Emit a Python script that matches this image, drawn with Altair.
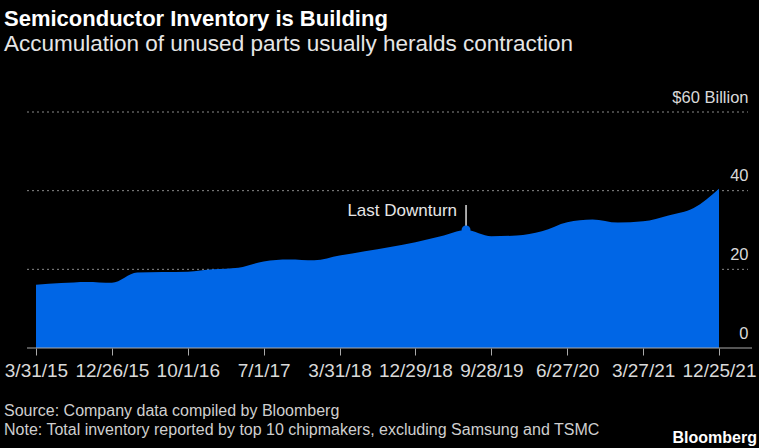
import altair as alt
import pandas as pd

# ---- data ----
quarter_index = list(range(28))  # 2015Q1 .. 2021Q4
inventory = [16.1, 16.5, 16.8, 16.6, 19.2, 19.3, 19.4, 20.0, 20.4, 22.0,
             22.5, 22.3, 23.5, 24.6, 25.7, 26.9, 28.4, 30.0, 28.4, 28.6,
             29.7, 32.0, 32.7, 31.9, 32.2, 33.7, 35.6, 40.5]
tick_positions = [0, 3, 6, 9, 12, 15, 18, 21, 24, 27]
tick_labels = ["3/31/15", "12/26/15", "10/1/16", "7/1/17", "3/31/18",
               "12/29/18", "9/28/19", "6/27/20", "3/27/21", "12/25/21"]
grid_values = [20, 40, 60]
y_ticks = [0, 20, 40, 60]
ann_index = [17]
ann_value = [30.0]
ann_label = ["Last Downturn"]

title = "Semiconductor Inventory is Building"
subtitle = "Accumulation of unused parts usually heralds contraction"
source = "Source: Company data compiled by Bloomberg"
note = "Note: Total inventory reported by top 10 chipmakers, excluding Samsung and TSMC"
brand = "Bloomberg"

W, H = 683, 236
FONT = "Liberation Sans"
BLUE = "#0066E6"

df = pd.DataFrame({"q": quarter_index, "v": inventory})
label_array = "[" + ",".join("'%s'" % t for t in tick_labels) + "]"

xscale = alt.Scale(domain=[0, 27], nice=False, zero=False)
yscale = alt.Scale(domain=[0, 60], nice=False)

yaxis = alt.Axis(orient="right", values=y_ticks,
                 labelExpr="datum.value == 60 ? '$60 Billion' : datum.label",
                 domain=False, grid=False, ticks=False, labelAlign="right",
                 labelBaseline="alphabetic", labelOffset=-10, labelPadding=29,
                 labelFont=FONT, labelFontSize=16.5, labelColor="#d9d9d9", title=None)

grid = alt.Chart(pd.DataFrame({"g": grid_values})).mark_rule(
    color="#8a8a8a", strokeDash=[2, 3], strokeWidth=1
).encode(
    y=alt.Y("g:Q", scale=yscale, axis=yaxis),
    x=alt.value(-9), x2=alt.value(W + 29),
)

area = alt.Chart(df).mark_area(color=BLUE, interpolate="monotone").encode(
    x=alt.X("q:Q", scale=xscale,
            axis=alt.Axis(values=tick_positions, labelExpr=label_array + "[round(datum.value/3)]",
                          domain=False, grid=False, ticks=True, tickSize=7, tickColor="#aaaaaa",
                          tickWidth=1, labelFont=FONT, labelFontSize=19, labelColor="#d9d9d9",
                          labelPadding=6, labelFlush=False, title=None)),
    y=alt.Y("v:Q", scale=yscale, axis=yaxis),
)

baseline = alt.Chart(pd.DataFrame({"b": [0]})).mark_rule(color="#aaaaaa", strokeWidth=1.2).encode(
    y=alt.Y("b:Q", scale=yscale, axis=yaxis), x=alt.value(-9), x2=alt.value(W + 33)
)

ann_df = pd.DataFrame({"q": ann_index, "v": ann_value, "t": ann_label})
ann_rule = alt.Chart(ann_df).mark_rule(color="white", strokeWidth=1.3, yOffset=-25, y2Offset=-4).encode(
    x=alt.X("q:Q", scale=xscale), y=alt.Y("v:Q", scale=yscale, axis=yaxis), y2="v:Q"
)
ann_dot = alt.Chart(ann_df).mark_circle(color=BLUE, opacity=1, size=80).encode(
    x=alt.X("q:Q", scale=xscale), y=alt.Y("v:Q", scale=yscale, axis=yaxis)
)
ann_text = alt.Chart(ann_df).mark_text(
    align="right", baseline="middle", dx=-9, dy=-19, font=FONT, fontSize=17, color="#e6e6e6"
).encode(x=alt.X("q:Q", scale=xscale), y=alt.Y("v:Q", scale=yscale, axis=yaxis), text="t:N")


def label(txt, x, y, size, color, weight="normal", align="left"):
    return alt.Chart(pd.DataFrame({"t": [txt]})).mark_text(
        align=align, baseline="alphabetic", font=FONT, fontSize=size,
        fontWeight=weight, color=color
    ).encode(text="t:N", x=alt.value(x), y=alt.value(y))


texts = [
    label(title, -32, -86, 22, "#ffffff", "bold"),
    label(subtitle, -32, -61, 22.5, "#e6e6e6"),
    label(source, -32, 304, 16, "#cfcfcf"),
    label(note, -32, 323, 16, "#cfcfcf"),
    label(brand, 721, 331, 16, "#ffffff", "bold", "right"),
]

chart = alt.layer(grid, area, baseline, ann_rule, ann_dot, ann_text, *texts).properties(
    width=W, height=H, background="#000000",
    autosize=alt.AutoSizeParams(type="none"),
    padding={"left": 36, "top": 112, "right": 40, "bottom": 100},
).configure_view(stroke=None)

chart.save("out.html", embed_options={"renderer": "svg", "actions": False})
